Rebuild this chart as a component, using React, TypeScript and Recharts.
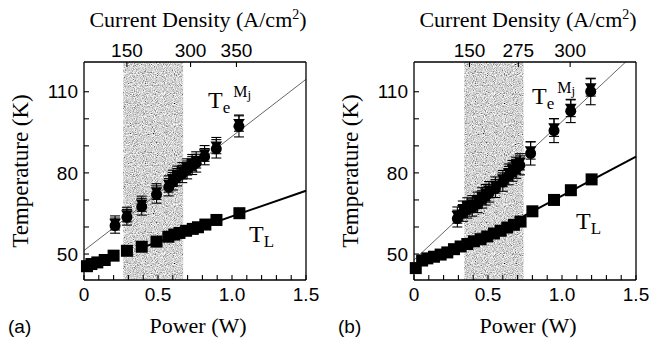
import React from 'react';
import { ComposedChart, Line, Scatter, XAxis, YAxis, ReferenceArea, ErrorBar } from 'recharts';

// ---- panel (a) ----
const aSquareP = [0.02, 0.05, 0.09, 0.14, 0.2, 0.29, 0.39, 0.49, 0.57, 0.61, 0.645, 0.69, 0.735, 0.77, 0.82, 0.895, 1.05];
const aSquareT = [45.5, 46.3, 46.9, 47.8, 49.4, 51.2, 52.7, 54.6, 56.4, 57.2, 57.8, 58.6, 59.3, 59.9, 60.9, 62.6, 65.1];
const aCircleP = [0.21, 0.29, 0.39, 0.49, 0.573, 0.6, 0.63, 0.664, 0.697, 0.731, 0.758, 0.815, 0.894, 1.047];
const aCircleT = [60.5, 63.6, 67.5, 72.0, 74.7, 76.9, 78.4, 79.6, 81.1, 82.7, 83.6, 86.0, 88.9, 97.2];
const aCircleErr = [2.8, 2.9, 3.1, 3.2, 3.2, 3.2, 3.2, 3.2, 3.3, 3.3, 3.3, 3.0, 3.4, 3.9];
const aTriT = [61.5, 64.6, 68.6, 73.1, 75.9, 78.0, 79.5, 80.8, 82.2, 83.8, 84.8, 87.2, 90.1, 98.4];
const aTriErr = [2.6, 2.7, 2.8, 2.9, 3.0, 3.0, 3.0, 3.0, 3.0, 3.0, 3.0, 2.9, 3.0, 3.0];
const aFitTeP = [0, 1.5];
const aFitTeT = [51.3, 114.6];
const aFitTLP = [0.35, 1.5];
const aFitTLT = [51.6, 73.4];
const aBand = [0.265, 0.67];
const aTopTicks = [0.29, 0.72, 1.03];
const aTopLabels = ['150', '300', '350'];

// ---- panel (b) ----
const bSquareP = [0.012, 0.055, 0.09, 0.135, 0.18, 0.225, 0.27, 0.315, 0.36, 0.405, 0.45, 0.495, 0.54, 0.585, 0.63, 0.675, 0.72, 0.8, 0.946, 1.06, 1.2];
const bSquareT = [44.8, 47.6, 48.4, 49.0, 49.8, 50.6, 51.8, 52.8, 53.7, 54.7, 55.5, 56.5, 57.6, 58.6, 59.8, 60.8, 62.0, 65.8, 70.0, 73.6, 77.6];
const bCircleP = [0.293, 0.33, 0.36, 0.394, 0.43, 0.46, 0.485, 0.507, 0.55, 0.6, 0.64, 0.665, 0.69, 0.716, 0.788, 0.946, 1.059, 1.194];
const bCircleT = [63.1, 65.2, 66.4, 67.2, 68.5, 70.2, 71.4, 72.5, 74.2, 76.6, 79.0, 80.3, 81.5, 82.8, 87.2, 95.6, 102.8, 110.1];
const bCircleErr = [3.1, 3.1, 3.1, 3.2, 3.2, 3.2, 3.3, 3.3, 3.3, 3.4, 3.4, 3.4, 3.5, 3.5, 4.3, 4.4, 4.2, 4.9];
const bTriT = [64.4, 66.6, 67.8, 68.6, 69.9, 71.5, 72.7, 73.8, 75.5, 77.9, 80.3, 81.6, 82.8, 84.1, 88.3, 96.8, 104.0, 111.6];
const bTriErr = [3.0, 3.0, 3.0, 3.0, 3.0, 3.0, 3.0, 3.0, 3.0, 3.0, 3.0, 3.0, 3.0, 3.0, 3.2, 3.3, 3.2, 3.2];
const bFitTeP = [0, 1.43];
const bFitTeT = [47.8, 121];
const bFitTLP = [0.74, 1.5];
const bFitTLT = [64.0, 86.0];
const bBand = [0.34, 0.74];
const bTopTicks = [0.375, 0.705, 1.055];
const bTopLabels = ['150', '275', '300'];

const xTicks = [0, 0.1, 0.2, 0.3, 0.4, 0.5, 0.6, 0.7, 0.8, 0.9, 1.0, 1.1, 1.2, 1.3, 1.4, 1.5];
const yTicks = [50, 60, 70, 80, 90, 100, 110];
const yLabelled = [50, 80, 110];
const Y_DOMAIN: [number, number] = [40.4, 121];

const SANS = '"Liberation Sans", Arial, sans-serif';
const SERIF = '"Liberation Serif", "Times New Roman", serif';

const pts = (p: number[], t: number[], e?: number[]) =>
  p.map((v, i) => ({ p: v, t: t[i], e: e ? e[i] : 0 }));

const xFmt = (v: number) => (v === 0 ? '0' : v === 0.5 ? '0.5' : v === 1 ? '1.0' : v === 1.5 ? '1.5' : '');
const yFmt = (v: number) => (yLabelled.includes(v) ? String(v) : '');

const SquareMark = (props: any) => {
  const { cx, cy } = props;
  return <rect x={cx - 6} y={cy - 6} width={12} height={12} fill="#000" />;
};
const CircleMark = (props: any) => {
  const { cx, cy } = props;
  return <circle cx={cx} cy={cy} r={5.5} fill="#000" />;
};
const TriMark = (props: any) => {
  const { cx, cy } = props;
  return <polygon points={`${cx - 5.8},${cy - 4.2} ${cx + 5.8},${cy - 4.2} ${cx},${cy + 5.8}`} fill="#000" />;
};

const tickStyle = { fontSize: 19, fontFamily: SANS, fill: '#000' };

function Panel(props: any) {
  const { tag, squares, circles, tris, fitTe, fitTL, band, topTicks, topLabels, teX, teY, tlX, tlY, patId } = props;
  const topFmt = (v: number) => {
    const i = topTicks.indexOf(v);
    return i >= 0 ? topLabels[i] : '';
  };
  return (
    <ComposedChart width={320} height={341} margin={{ top: 0, right: 13, bottom: 31, left: 0 }}>
      <defs>
        <filter id={`${patId}-n`} x="0" y="0" width="100%" height="100%">
          <feTurbulence type="fractalNoise" baseFrequency="1.1" numOctaves="1" seed="4" />
          <feColorMatrix type="matrix" values="0.95 0.95 0.95 0 -0.78  0.95 0.95 0.95 0 -0.78  0.95 0.95 0.95 0 -0.78  0 0 0 0 1" />
        </filter>
        <pattern id={patId} width={80} height={80} patternUnits="userSpaceOnUse">
          <rect width={80} height={80} fill="#a6a6a6" />
          <rect width={80} height={80} filter={`url(#${patId}-n)`} />
        </pattern>
      </defs>
      <XAxis
        type="number"
        dataKey="p"
        domain={[0, 1.5]}
        ticks={xTicks}
        interval={0}
        tickFormatter={xFmt}
        tickSize={-5}
        tickMargin={13}
        height={30}
        tick={tickStyle}
        axisLine={{ stroke: '#000', strokeWidth: 1.3 }}
        tickLine={{ stroke: '#000', strokeWidth: 1.1 }}
      />
      <XAxis
        xAxisId="top"
        orientation="top"
        type="number"
        dataKey="p"
        domain={[0, 1.5]}
        ticks={topTicks}
        interval={0}
        tickFormatter={topFmt}
        tickSize={-5}
        tickMargin={10}
        height={62}
        tick={tickStyle}
        axisLine={{ stroke: '#000', strokeWidth: 1.3 }}
        tickLine={{ stroke: '#000', strokeWidth: 1.1 }}
      />
      <YAxis
        type="number"
        dataKey="t"
        domain={Y_DOMAIN}
        ticks={yTicks}
        interval={0}
        tickFormatter={yFmt}
        tickSize={-5}
        tickMargin={11}
        width={84}
        tick={tickStyle}
        axisLine={{ stroke: '#000', strokeWidth: 1.3 }}
        tickLine={{ stroke: '#000', strokeWidth: 1.1 }}
      />
      <YAxis
        yAxisId="r"
        orientation="right"
        type="number"
        dataKey="t"
        domain={Y_DOMAIN}
        ticks={yTicks}
        interval={0}
        tick={false}
        tickSize={-5}
        width={1}
        axisLine={{ stroke: '#000', strokeWidth: 1.3 }}
        tickLine={{ stroke: '#000', strokeWidth: 1.1 }}
      />
      <ReferenceArea x1={band[0]} x2={band[1]} fill={`url(#${patId})`} fillOpacity={1} stroke="none" />
      {/* invisible series so the top and right axes get drawn */}
      <Line xAxisId="top" yAxisId="r" data={fitTe} dataKey="t" stroke="none" dot={false} activeDot={false} isAnimationActive={false} />
      <Line data={fitTe} dataKey="t" stroke="#555" strokeWidth={0.9} dot={false} activeDot={false} isAnimationActive={false} />
      <Line data={fitTL} dataKey="t" stroke="#000" strokeWidth={2} dot={false} activeDot={false} isAnimationActive={false} />
      <Scatter data={squares} dataKey="t" shape={SquareMark} isAnimationActive={false} />
      <Scatter data={tris} dataKey="t" shape={TriMark} isAnimationActive={false}>
        <ErrorBar dataKey="e" direction="y" width={5} stroke="#000" strokeWidth={1.1} isAnimationActive={false} />
      </Scatter>
      <Scatter data={circles} dataKey="t" shape={CircleMark} isAnimationActive={false}>
        <ErrorBar dataKey="e" direction="y" width={5} stroke="#000" strokeWidth={1.1} isAnimationActive={false} />
      </Scatter>
      <text x={198} y={27} textAnchor="middle" fontFamily={SERIF} fontSize={22} fill="#000">
        Current Density (A/cm<tspan fontSize={14} dy={-8}>2</tspan><tspan dy={8}>)</tspan>
      </text>
      <text x={198} y={333} textAnchor="middle" fontFamily={SERIF} fontSize={22} fill="#000">Power (W)</text>
      <text x={20} y={171} textAnchor="middle" fontFamily={SERIF} fontSize={23} fill="#000" transform="rotate(-90 20 171)" dominantBaseline="central">
        Temperature (K)
      </text>
      <text x={8} y={333} fontFamily={SANS} fontSize={19} fill="#000">{tag}</text>
      <text x={teX} y={teY} fontFamily={SERIF} fontSize={24} fill="#000">
        T<tspan fontSize={17} dy={5}>e</tspan><tspan fontSize={16} dx={3} dy={-16}>M</tspan><tspan fontSize={13} dy={2}>j</tspan>
      </text>
      <text x={tlX} y={tlY} fontFamily={SERIF} fontSize={24} fill="#000">
        T<tspan fontSize={17} dy={5}>L</tspan>
      </text>
    </ComposedChart>
  );
}

export default function App() {
  return (
    <div style={{ position: 'absolute', left: 0, top: 0, width: 650, height: 341, background: '#fff' }}>
      <div style={{ position: 'absolute', left: 0, top: 0 }}>
        <Panel
          tag="(a)"
          patId="speckA"
          squares={pts(aSquareP, aSquareT)}
          circles={pts(aCircleP, aCircleT, aCircleErr)}
          tris={pts(aCircleP, aTriT, aTriErr)}
          fitTe={pts(aFitTeP, aFitTeT)}
          fitTL={pts(aFitTLP, aFitTLT)}
          band={aBand}
          topTicks={aTopTicks}
          topLabels={aTopLabels}
          teX={208}
          teY={108}
          tlX={249}
          tlY={242}
        />
      </div>
      <div style={{ position: 'absolute', left: 330, top: 0 }}>
        <Panel
          tag="(b)"
          patId="speckB"
          squares={pts(bSquareP, bSquareT)}
          circles={pts(bCircleP, bCircleT, bCircleErr)}
          tris={pts(bCircleP, bTriT, bTriErr)}
          fitTe={pts(bFitTeP, bFitTeT)}
          fitTL={pts(bFitTLP, bFitTLT)}
          band={bBand}
          topTicks={bTopTicks}
          topLabels={bTopLabels}
          teX={202}
          teY={104}
          tlX={246}
          tlY={229}
        />
      </div>
    </div>
  );
}
